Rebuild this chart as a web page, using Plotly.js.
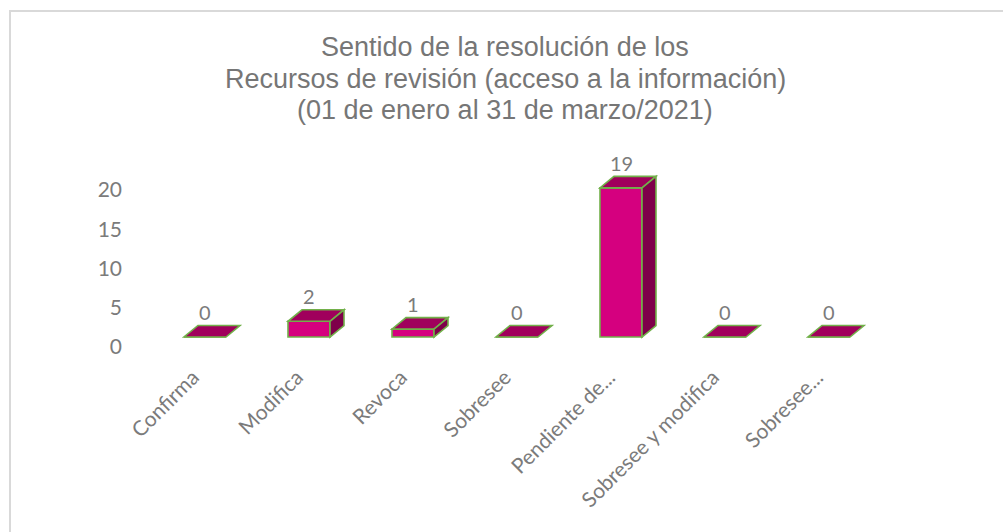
<!DOCTYPE html>
<html>
<head>
<meta charset="utf-8">
<script src="https://cdn.plot.ly/plotly-3.0.1.min.js"></script>
<style>
  html, body { margin: 0; padding: 0; background: #ffffff; }
  #wrap { position: relative; width: 1003px; height: 532px; overflow: hidden; }
  #frame { position: absolute; left: 9px; top: 10px; width: 1100px; height: 600px;
           border-left: 2px solid #d9d9d9; border-top: 2px solid #d9d9d9; }
  #chart { position: absolute; left: 0; top: 0; width: 1003px; height: 532px; }
</style>
</head>
<body>
<div id="wrap">
  <div id="frame"></div>
  <div id="chart"></div>
</div>
<script>
// ---- data ----
const titleLines = ["Sentido de la resolución de los",
                    "Recursos de revisión (acceso a la información)",
                    "(01 de enero al 31 de marzo/2021)"];
const categories = ["Confirma", "Modifica", "Revoca", "Sobresee",
                    "Pendiente de...", "Sobresee y modifica", "Sobresee..."];
const values = [0, 2, 1, 0, 19, 0, 0];
const yTickValues = [0, 5, 10, 15, 20];

// ---- styling / geometry (layout only) ----
const W = 1003, H = 532;
const M = { l: 153, r: 122, t: 150, b: 172 };
const pxPerCat = (W - M.l - M.r) / categories.length;   // ~104 px
const plotH = H - M.t - M.b;
const pxPerUnit = 7.85;
const axisZeroPx = 347;      // y pixel of the "0" label (back wall)
const frontZeroPx = 337;     // y pixel of the bars' front base
const yBottomPx = H - M.b;
const yRange = [-(yBottomPx - axisZeroPx) / pxPerUnit, 0];
yRange[1] = yRange[0] + plotH / pxPerUnit;
const y2Range = [-(yBottomPx - frontZeroPx) / pxPerUnit, 0];
y2Range[1] = y2Range[0] + plotH / pxPerUnit;

const barW = 42 / pxPerCat;           // front face width in category units
const dX = 14 / pxPerCat;             // depth offset, x
const dY = 11.5 / pxPerUnit;          // depth offset, y
const cFront = "#d5007f", cTop = "#a0005c", cSide = "#7e004a", cEdge = "#72b04a";
const grey = "#7b7b7b";
const titleCentersPx = [47, 78.5, 110];   // pixel centre of each title line
const titleCenterX = 505;

const idx = categories.map((_, i) => i);

// front faces via the bar trace
const bars = {
  type: "bar", x: idx, y: values, yaxis: "y2", width: barW,
  marker: { color: cFront, line: { color: cEdge, width: 1.6 } },
  hoverinfo: "skip", showlegend: false
};
// invisible trace to keep the label axis active
const axisTrace = { type: "scatter", x: [idx[0]], y: [yTickValues[0]], mode: "markers",
  marker: { opacity: 0 }, hoverinfo: "skip", showlegend: false };

const shapes = [];
values.forEach((v, i) => {
  const xl = i - barW / 2, xr = i + barW / 2;
  // top face
  shapes.push({ type: "path", xref: "x", yref: "y2", layer: "above",
    path: `M ${xl},${v} L ${xr},${v} L ${xr + dX},${v + dY} L ${xl + dX},${v + dY} Z`,
    fillcolor: cTop, line: { color: cEdge, width: 1.6 } });
  // side face
  if (v > 0) {
    shapes.push({ type: "path", xref: "x", yref: "y2", layer: "above",
      path: `M ${xr},0 L ${xr},${v} L ${xr + dX},${v + dY} L ${xr + dX},${dY} Z`,
      fillcolor: cSide, line: { color: cEdge, width: 1.6 } });
  }
});

const annotations = values.map((v, i) => ({
  x: i, y: v + dY, xref: "x", yref: "y2", text: String(v), showarrow: false,
  yanchor: "middle", yshift: 13.5, font: { family: "Lato, sans-serif", size: 20, color: grey }
}));
// chart title, one line per annotation for exact line spacing
titleLines.forEach((line, k) => {
  annotations.push({
    x: (titleCenterX - M.l) / (W - M.l - M.r), y: 1, xref: "paper", yref: "paper",
    xanchor: "center", yanchor: "middle", yshift: M.t - titleCentersPx[k],
    text: line, showarrow: false,
    font: { family: "Liberation Sans, Arial, sans-serif", size: 27, color: "#767676" }
  });
});

const layout = {
  width: W, height: H,
  margin: M,
  paper_bgcolor: "rgba(0,0,0,0)", plot_bgcolor: "rgba(0,0,0,0)",
  xaxis: { type: "linear", range: [-0.5, categories.length - 0.5], tickmode: "array",
           tickvals: idx, ticktext: categories, tickangle: -45, showgrid: false,
           zeroline: false, showline: false, ticks: "", ticklabelshift: -12, ticklabelstandoff: 0,
           tickfont: { family: "Lato, sans-serif", size: 21, color: grey }, fixedrange: true },
  yaxis: { range: yRange, tickmode: "array", tickvals: yTickValues, showgrid: false,
           zeroline: false, showline: false, ticks: "", ticklabelstandoff: 30,
           tickfont: { family: "Lato, sans-serif", size: 21, color: grey }, fixedrange: true },
  yaxis2: { range: y2Range, overlaying: "y", showticklabels: false, showgrid: false,
            zeroline: false, showline: false, ticks: "", fixedrange: true },
  shapes: shapes, annotations: annotations, showlegend: false
};

Plotly.newPlot("chart", [axisTrace, bars], layout, { displayModeBar: false, staticPlot: true });
</script>
</body>
</html>
